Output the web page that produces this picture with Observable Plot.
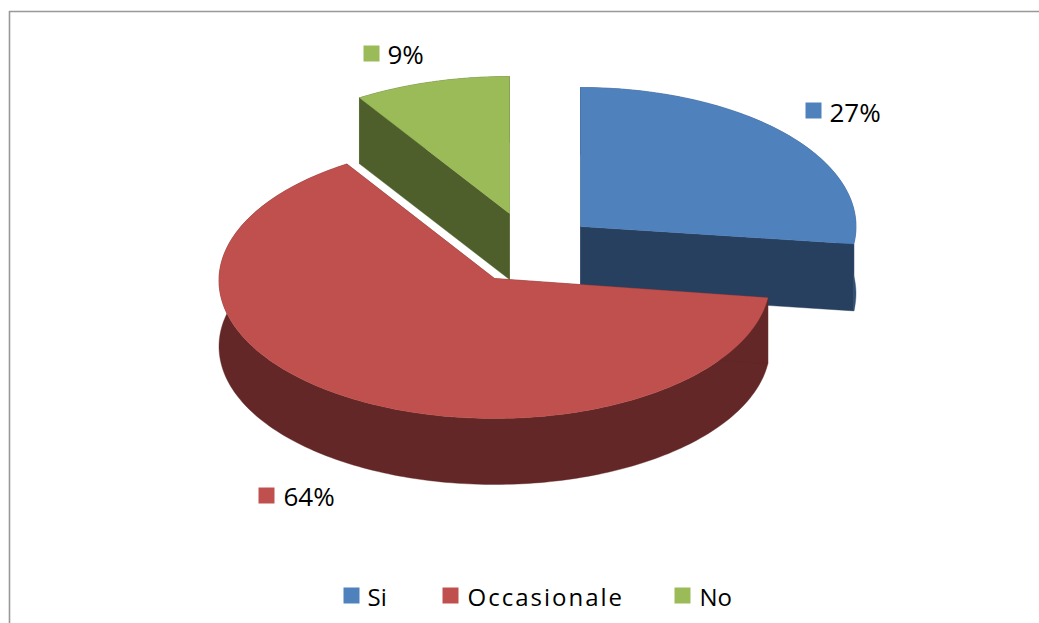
<!DOCTYPE html>
<html>
<head>
<meta charset="utf-8">
<script src="https://cdn.jsdelivr.net/npm/d3@7"></script>
<script src="https://cdn.jsdelivr.net/npm/@observablehq/plot@0.6"></script>
<style>
html,body{margin:0;padding:0;background:#fff;overflow:hidden}
svg{display:block}
</style>
</head>
<body>
<div id="chart"></div>
<script>
// Data
const categories = ["Si", "Occasionale", "No"];
const shares = [27, 64, 9];
const shareLabels = ["27%", "64%", "9%"];

// Styles
const topColors = ["#4f81bd", "#c0504d", "#9bbb59"];
const wallColors = ["#28405f", "#622726", "#4f5f2b"];
const outerWallColors = ["#33527a", "#622726", "#4f5f2b"];

// Layout of the exploded, tilted slices (ellipse centre, apex, radii, thickness)
const ellipseCx = [580, 494, 509];
const ellipseCy = [226, 280, 213];
const apexY = [226, 278, 213];
const radiusX = [275.5, 275.5, 280];
const radiusY = [139, 138, 137];
const thickness = [67, 66, 66];
const drawOrder = [2, 0, 1];

// Label and legend placement
const labelDotX = [813, 266, 371];
const labelDotY = [110, 495, 53];
const labelTextX = [829, 283, 387];
const labelBaseY = [121, 505, 63];
const legendDotX = [351, 450, 682];
const legendTextX = [367, 467, 699];
const legendDotY = 595;
const legendBaseY = 605;
const borderX = 9;
const borderY = 11;
const W = 1039, H = 623;

const total = d3.sum(shares);
const cum = d3.cumsum(shares);
const startOf = i => (i === 0 ? 0 : cum[i - 1]) / total * 2 * Math.PI;
const endOf = i => cum[i] / total * 2 * Math.PI;

function rim(i, drop = 0) {
  const a0 = startOf(i), a1 = endOf(i);
  const n = Math.max(8, Math.round((a1 - a0) / 0.02));
  return d3.range(n + 1).map(k => {
    const a = a0 + (a1 - a0) * k / n;
    return {
      x: ellipseCx[i] + radiusX[i] * Math.sin(a),
      y: ellipseCy[i] - radiusY[i] * Math.cos(a) + drop
    };
  });
}

const polyMark = (points, fill) =>
  Plot.line([...points, points[0]], {x: "x", y: "y", fill, stroke: fill, strokeWidth: 0.4, curve: "linear"});

const sliceMarks = drawOrder.flatMap(i => {
  const top = rim(i);
  const bottom = rim(i, thickness[i]);
  const apex = {x: ellipseCx[i], y: apexY[i]};
  const apexLow = {x: apex.x, y: apex.y + thickness[i]};
  const first = top[0], last = top[top.length - 1];
  const firstLow = bottom[0], lastLow = bottom[bottom.length - 1];
  return [
    polyMark([...top, ...bottom.slice().reverse()], outerWallColors[i]),
    polyMark([apex, first, firstLow, apexLow], wallColors[i]),
    polyMark([apex, last, lastLow, apexLow], wallColors[i]),
    polyMark([apex, ...top], topColors[i])
  ];
});

const idx = d3.range(categories.length);
const dotR = 16 / Math.sqrt(Math.PI);

const svg = Plot.plot({
  width: W,
  height: H,
  margin: 0,
  x: {domain: [0, W], range: [0, W], axis: null},
  y: {domain: [0, H], range: [0, H], axis: null},
  style: {background: "#fff", fontFamily: "'Open Sans', sans-serif", color: "#000"},
  marks: [
    Plot.ruleX([borderX], {y1: borderY, y2: H, stroke: "#999", strokeWidth: 1.6}),
    Plot.ruleY([borderY], {x1: borderX, x2: W, stroke: "#999", strokeWidth: 1.6}),
    ...sliceMarks,
    Plot.dot(idx, {x: i => labelDotX[i], y: i => labelDotY[i], r: dotR, symbol: "square", fill: i => topColors[i], stroke: null}),
    Plot.text(idx, {x: i => labelTextX[i], y: i => labelBaseY[i], text: i => shareLabels[i], textAnchor: "start", lineAnchor: "bottom", fontSize: 26, fill: "#000"}),
    Plot.dot(idx, {x: i => legendDotX[i], y: legendDotY, r: dotR, symbol: "square", fill: i => topColors[i], stroke: null}),
    Plot.text(idx, {x: i => legendTextX[i], y: legendBaseY, text: i => categories[i], textAnchor: "start", lineAnchor: "bottom", fontSize: 24, fill: "#000"})
  ]
});
svg.querySelectorAll("text").forEach(t => {
  if (t.textContent === "Occasionale") t.style.letterSpacing = "2px";
});
document.getElementById("chart").append(svg);
</script>
</body>
</html>
